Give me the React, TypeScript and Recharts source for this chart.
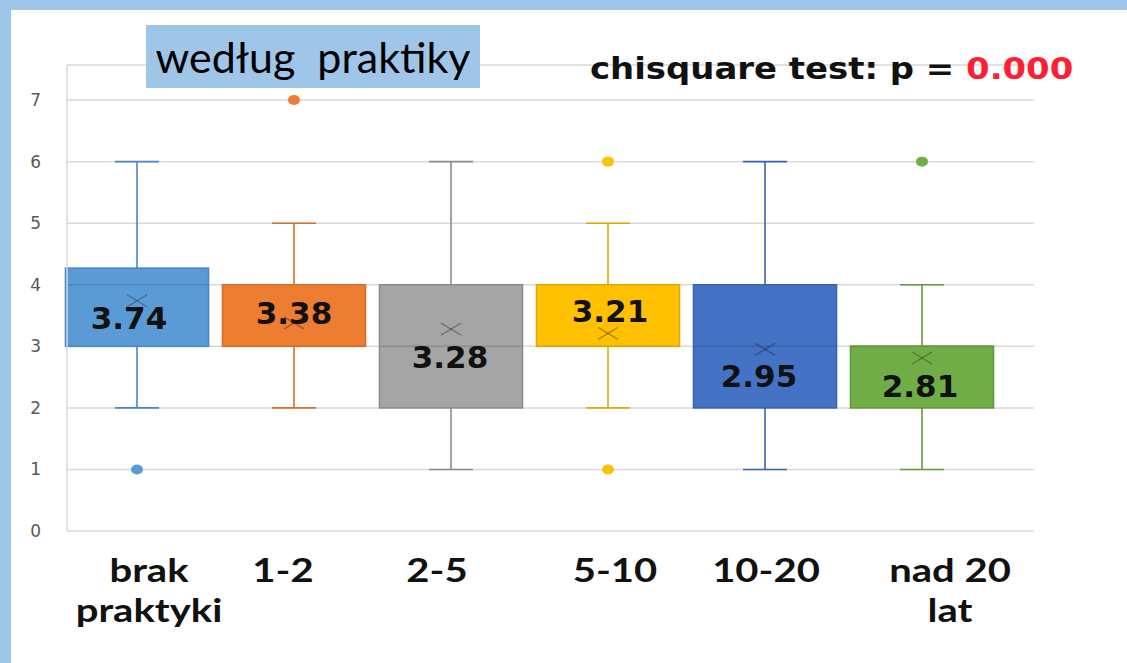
import React from 'react';
import { ComposedChart, Bar, Scatter, XAxis, YAxis, CartesianGrid } from 'recharts';

// ---- data ----
const categories = ['brak praktyki', '1-2', '2-5', '5-10', '10-20', 'nad 20 lat'];
const categoryLines = [['brak', 'praktyki'], ['1-2'], ['2-5'], ['5-10'], ['10-20'], ['nad 20', 'lat']];
const minValues = [2, 2, 1, 2, 1, 1];
const q1Values = [3, 3, 2, 3, 2, 2];
const medianValues = [4, 3, 3, 3, 3, 3];
const q3Values = [4.27, 4, 4, 4, 4, 3];
const maxValues = [6, 5, 6, 5, 6, 4];
const meanValues = [3.74, 3.38, 3.28, 3.21, 2.95, 2.81];
const upperOutliers: (number | null)[] = [null, 7, null, 6, null, 6];
const lowerOutliers: (number | null)[] = [1, null, null, 1, null, null];
const yTicks = [0, 1, 2, 3, 4, 5, 6, 7];

// ---- styles ----
const fillColors = ['#5b9bd5', '#ed7d31', '#a5a5a5', '#ffc000', '#4472c4', '#70ad47'];
const strokeColors = ['#4a86c2', '#d5702a', '#8c8c8c', '#dcaa00', '#3a63ab', '#5f9a3c'];
const meanLabelDx = [-8, 0, -1, 2, -6, -2];
const meanLabelDy = [17, -10, 28, -22, 27, 28];
const xLabelDx = [12, -11, -14, 7, 1, 28];

const rows = categories.map((name, i) => ({
  name,
  idx: i,
  range: [minValues[i], maxValues[i]],
  min: minValues[i],
  q1: q1Values[i],
  median: medianValues[i],
  q3: q3Values[i],
  max: maxValues[i],
  mean: meanValues[i],
  outHi: upperOutliers[i],
  outLo: lowerOutliers[i],
}));

const BoxShape = (props: any) => {
  const { x, y, width, height, payload } = props;
  if (!payload) return <g />;
  const i = payload.idx;
  const top = Math.min(y, y + height);
  const bottom = Math.max(y, y + height);
  const py = (v: number) => bottom - ((bottom - top) * (v - payload.min)) / (payload.max - payload.min);
  const cx = x + width / 2;
  const capHalf = 22;
  const sc = strokeColors[i];
  const yMax = py(payload.max);
  const yMin = py(payload.min);
  const yQ3 = py(payload.q3);
  const yQ1 = py(payload.q1);
  const yMed = py(payload.median);
  return (
    <g>
      <line x1={cx} x2={cx} y1={yMax} y2={yQ3} stroke={sc} strokeWidth={1.6} />
      <line x1={cx} x2={cx} y1={yQ1} y2={yMin} stroke={sc} strokeWidth={1.6} />
      <line x1={cx - capHalf} x2={cx + capHalf} y1={yMax} y2={yMax} stroke={sc} strokeWidth={1.6} />
      <line x1={cx - capHalf} x2={cx + capHalf} y1={yMin} y2={yMin} stroke={sc} strokeWidth={1.6} />
      <rect x={x} y={yQ3} width={width} height={yQ1 - yQ3} fill={fillColors[i]} stroke={sc} strokeWidth={1.6} />
      <line x1={x} x2={x + width} y1={yMed} y2={yMed} stroke={sc} strokeWidth={1.6} />
    </g>
  );
};

const MeanShape = (props: any) => {
  const { cx, cy, payload } = props;
  if (!payload || cx == null || cy == null) return <g />;
  const i = payload.idx;
  return (
    <g>
      <line x1={cx - 10} x2={cx + 10} y1={cy - 6} y2={cy + 6} stroke="#000" strokeOpacity={0.3} strokeWidth={1.3} />
      <line x1={cx - 10} x2={cx + 10} y1={cy + 6} y2={cy - 6} stroke="#000" strokeOpacity={0.3} strokeWidth={1.3} />
      <text
        x={cx + meanLabelDx[i]}
        y={cy + meanLabelDy[i]}
        textAnchor="middle"
        dominantBaseline="central"
        fontFamily="'DejaVu Sans', Verdana, sans-serif"
        fontWeight="bold"
        fontSize={31}
        fill="#111"
      >
        {payload.mean.toFixed(2)}
      </text>
    </g>
  );
};

const makeOutlierShape = (key: 'outHi' | 'outLo') => (props: any) => {
  const { cx, cy, payload } = props;
  if (!payload || payload[key] == null || cx == null || cy == null) return <g />;
  return <ellipse cx={cx} cy={cy} rx={6} ry={5} fill={fillColors[payload.idx]} />;
};

const XTick = (props: any) => {
  const { x, y, payload, index } = props;
  const i = typeof payload?.index === 'number' ? payload.index : index;
  const lines = categoryLines[i] || [];
  return (
    <g transform={`translate(${x + xLabelDx[i]},${y})`}>
      {lines.map((l, k) => (
        <text
          key={k}
          transform={`translate(0,${51 + k * 40}) scale(1.25,1)`}
          textAnchor="middle"
          fontFamily="Lato, 'Open Sans', sans-serif"
          fontWeight="bold"
          fontSize={32}
          fill="#111"
        >
          {l}
        </text>
      ))}
    </g>
  );
};

export default function App() {
  return (
    <div style={{ position: 'absolute', left: 0, top: 0, width: 1127, height: 663, background: '#fff', overflow: 'hidden' }}>
      <div style={{ position: 'absolute', left: 0, top: 0, width: 1127, height: 10, background: '#9fc5e8' }} />
      <div style={{ position: 'absolute', left: 0, top: 0, width: 11, height: 663, background: '#9fc5e8' }} />
      <div style={{ position: 'absolute', left: 0, top: 0 }}>
        <ComposedChart width={1127} height={663} data={rows} margin={{ top: 65, right: 93, left: 0, bottom: 32 }}>
          <CartesianGrid vertical={false} stroke="#d9d9d9" strokeWidth={1.5} />
          <YAxis
            type="number"
            domain={[0, 7.57]}
            ticks={yTicks}
            allowDataOverflow
            width={67}
            axisLine={{ stroke: '#d9d9d9', strokeWidth: 1.5 }}
            tickLine={false}
            tickMargin={20}
            tick={{ fill: '#595959', fontSize: 17, fontFamily: "'DejaVu Sans', sans-serif" }}
          />
          <XAxis
            dataKey="name"
            type="category"
            height={100}
            padding={{ left: -8.5, right: 33.5 }}
            axisLine={false}
            tickLine={false}
            tickSize={0}
            tickMargin={0}
            interval={0}
            tick={<XTick />}
          />
          <Bar dataKey="range" barSize={143} shape={<BoxShape />} isAnimationActive={false} />
          <Scatter dataKey="mean" shape={<MeanShape />} isAnimationActive={false} />
          <Scatter dataKey="outHi" shape={makeOutlierShape('outHi')} isAnimationActive={false} />
          <Scatter dataKey="outLo" shape={makeOutlierShape('outLo')} isAnimationActive={false} />
        </ComposedChart>
      </div>
      <div
        style={{
          position: 'absolute',
          left: 146,
          top: 25,
          width: 334,
          height: 63,
          background: '#9fc5e8',
          fontFamily: 'Lato, sans-serif',
          fontSize: 43,
          lineHeight: '63px',
          textAlign: 'center',
          color: '#000',
          whiteSpace: 'pre',
        }}
      >
        {'według  praktiky'}
      </div>
      <div
        style={{
          position: 'absolute',
          left: 590,
          top: 49,
          fontFamily: "'DejaVu Sans', Verdana, sans-serif",
          fontWeight: 'bold',
          fontSize: 30,
          lineHeight: '40px',
          color: '#111',
          whiteSpace: 'pre',
          transform: 'scaleX(1.13)',
          transformOrigin: 'left center',
        }}
      >
        chisquare test: p = <span style={{ color: '#ff1e32' }}>0.000</span>
      </div>
    </div>
  );
}
